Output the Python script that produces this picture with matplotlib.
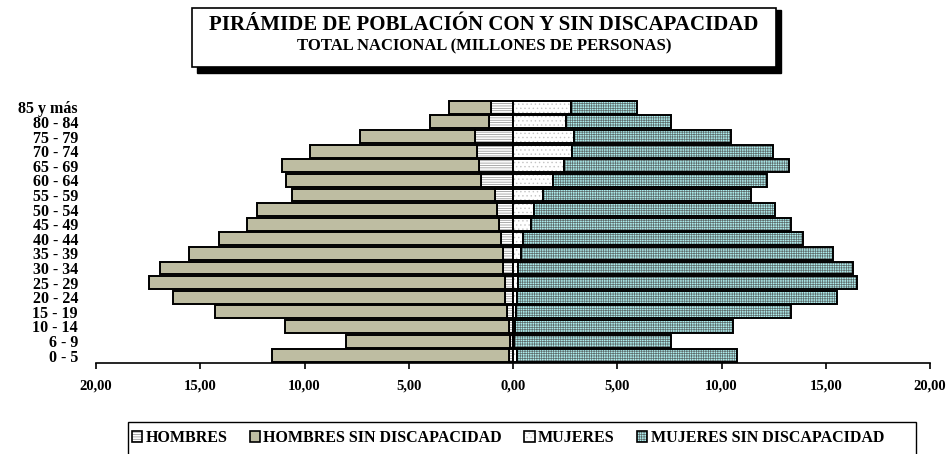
import numpy as np
import matplotlib
matplotlib.use('Agg')
import matplotlib.pyplot as plt
from matplotlib.patches import Patch, Rectangle

plt.rcParams['font.family'] = ['Liberation Serif', 'DejaVu Serif']
plt.rcParams['font.weight'] = 'bold'
plt.rcParams['hatch.linewidth'] = 0.5

# grupos de edad, de abajo hacia arriba
grupos = ['0 - 5', '6 - 9', '10 - 14', '15 - 19', '20 - 24', '25 - 29',
          '30 - 34', '35 - 39', '40 - 44', '45 - 49', '50 - 54', '55 - 59',
          '60 - 64', '65 - 69', '70 - 74', '75 - 79', '80 - 84', '85 y más']

# millones de personas
hombres = [0.19, 0.13, 0.18, 0.29, 0.37, 0.37, 0.48, 0.48, 0.58,
           0.67, 0.77, 0.86, 1.54, 1.63, 1.73, 1.84, 1.17, 1.05]
hombres_sin = [11.39, 7.90, 10.75, 14.01, 15.95, 17.08, 16.47, 15.07, 13.53,
               12.08, 11.50, 9.76, 9.37, 9.47, 8.03, 5.52, 2.83, 2.02]
mujeres = [0.18, 0.06, 0.11, 0.14, 0.18, 0.25, 0.25, 0.36, 0.47,
           0.84, 1.03, 1.43, 1.91, 2.47, 2.85, 2.92, 2.55, 2.76]
mujeres_sin = [10.57, 7.53, 10.45, 13.20, 15.37, 16.27, 16.07, 15.00, 13.45,
               12.48, 11.55, 9.98, 10.28, 10.78, 9.64, 7.54, 5.04, 3.20]

etiquetas_x = ['20,00', '15,00', '10,00', '5,00', '0,00', '5,00', '10,00', '15,00', '20,00']
series = ['HOMBRES', 'HOMBRES SIN DISCAPACIDAD', 'MUJERES', 'MUJERES SIN DISCAPACIDAD']

W, H = 950, 454
fig = plt.figure(figsize=(W / 100, H / 100), dpi=100)
ax = fig.add_axes([96 / W, 1 - 363 / H, 834 / W, 263 / H])

y = np.arange(len(grupos))
alto = 0.88

hom = np.array(hombres)
hom_sin = np.array(hombres_sin)
muj = np.array(mujeres)
muj_sin = np.array(mujeres_sin)

estilos = [('white', '-------', '#8a8a8a'),
           ('#BEBDA2', None, '#BEBDA2'),
           ('white', '....', '#c4c4c4'),
           ('#aeeeee', '+++++++', '#5d6b6b')]


def barras(left, width, estilo):
    face, hatch, hcol = estilo
    ax.barh(y, width, left=left, height=alto, color=face, hatch=hatch,
            edgecolor=hcol, linewidth=0)
    ax.barh(y, width, left=left, height=alto, fill=False,
            edgecolor='black', linewidth=1.4)


barras(0, -hom, estilos[0])
barras(-hom, -hom_sin, estilos[1])
barras(0, muj, estilos[2])
barras(muj, muj_sin, estilos[3])

ax.set_xlim(-20, 20)
ax.set_ylim(-0.5, 17.5)
ax.set_xticks(np.arange(-20, 21, 5))
ax.set_xticklabels(etiquetas_x)
ax.set_yticks(y)
ax.set_yticklabels(grupos)
for s in ['top', 'right', 'left']:
    ax.spines[s].set_visible(False)
ax.spines['bottom'].set_linewidth(1.2)
ax.tick_params(axis='y', length=0, pad=13, labelsize=11.5)
ax.tick_params(axis='x', direction='out', length=4, width=1.2, pad=8, labelsize=10.5)

# caja del titulo con sombra
fig.patches.append(Rectangle((197 / W, 1 - 73 / H), 584 / W, 63 / H,
                             transform=fig.transFigure, facecolor='black',
                             edgecolor='black', zorder=0))
fig.patches.append(Rectangle((192 / W, 1 - 67 / H), 584 / W, 59 / H,
                             transform=fig.transFigure, facecolor='white',
                             edgecolor='black', linewidth=1.2, zorder=1))
fig.text(484 / W, 1 - 25 / H, 'PIRÁMIDE DE POBLACIÓN CON Y SIN DISCAPACIDAD',
         ha='center', va='center', fontsize=15, zorder=2)
fig.text(484 / W, 1 - 46 / H, 'TOTAL NACIONAL (MILLONES DE PERSONAS)',
         ha='center', va='center', fontsize=12, zorder=2)

# leyenda
fig.patches.append(Rectangle((128 / W, 1 - 458 / H), 788 / W, 36 / H,
                             transform=fig.transFigure, fill=False,
                             edgecolor='black', linewidth=1.0))
handles = []
for face, hatch, hcol in estilos:
    handles.append((Patch(facecolor=face, hatch=hatch, edgecolor=hcol, linewidth=0),
                    Patch(fill=False, edgecolor='black', linewidth=1.2)))
fig.legend(handles, series, loc='center left', bbox_to_anchor=(132 / W, 1 - 438 / H),
           ncol=4, frameon=False, fontsize=11.5, handlelength=0.65,
           handleheight=0.65, handletextpad=0.2, columnspacing=1.4,
           borderpad=0, borderaxespad=0)

fig.savefig('out.png', dpi=100)
